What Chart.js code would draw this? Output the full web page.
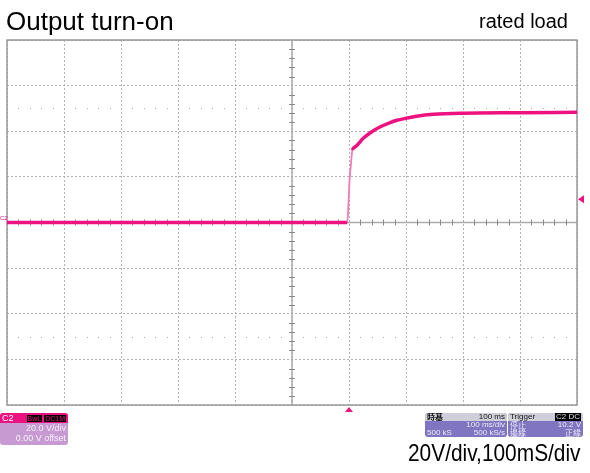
<!DOCTYPE html>
<html>
<head>
<meta charset="utf-8">
<script src="https://cdn.jsdelivr.net/npm/chart.js@4"></script>
<style>
  body { margin: 0; background: #fff; font-family: "Liberation Sans", Arial, sans-serif; }
  #wrap { position: relative; width: 590px; height: 473px; overflow: hidden; }
  #scope { position: absolute; left: 0; top: 0; }
  .txt { position: absolute; white-space: nowrap; color: #000; }
  #title { left: 6px; top: 8px; font-size: 26px; line-height: 26px; }
  #load { right: 22px; top: 11px; font-size: 20px; line-height: 20px; }
  #scale { left: 408px; top: 441px; font-size: 24px; line-height: 24px; transform: scaleX(0.87); transform-origin: left top; }
  #gnd { left: 0; top: 215px; font-size: 6px; line-height: 6px; color: #ee1280; }
  .box { position: absolute; border-radius: 3px; overflow: hidden; font-size: 8px; line-height: 8px; }
  .row { position: relative; height: 8px; }
  .row span { position: absolute; top: 0; }
  .l { left: 2px; } .r { right: 2px; }
  .badge { background: #000; padding: 0 1px; }
  #c2 { left: 0; top: 413px; width: 68px; height: 32px; background: #c89ad2; color: #f4eef8; font-size: 9px; line-height: 10px; }
  #c2 .head { background: #ea137f; height: 11px; color: #fff; }
  #c2 .row { height: 10px; }
  #tb { left: 425px; top: 413px; width: 82px; height: 24px; background: #7f75c0; color: #eceaf8; }
  #trg { left: 508px; top: 413px; width: 75px; height: 24px; background: #7f75c0; color: #eceaf8; }
  .gh { background: #cfcfda; color: #111; }
</style>
</head>
<body>
<div id="wrap">
  <canvas id="scope" width="590" height="473"></canvas>
  <div class="txt" id="title">Output turn-on</div>
  <div class="txt" id="load">rated load</div>
  <div class="txt" id="scale">20V/div,100mS/div</div>
  <div class="txt" id="gnd">C2</div>
  <div class="box" id="c2">
    <div class="row head"><span class="l">C2</span><span class="r" style="color:#ea137f;font-size:7px;line-height:9px;top:1px"><span class="badge" style="position:static">BwL</span> <span class="badge" style="position:static">DC1M</span></span></div>
    <div class="row"><span class="r">20.0 V/div</span></div>
    <div class="row"><span class="r">0.00 V offset</span></div>
  </div>
  <div class="box" id="tb">
    <div class="row gh"><span class="l" style="font-family:'Noto Sans CJK TC';font-weight:bold">時基</span><span class="r">100 ms</span></div>
    <div class="row"><span class="r">100 ms/div</span></div>
    <div class="row"><span class="l">500 kS</span><span class="r">500 kS/s</span></div>
  </div>
  <div class="box" id="trg">
    <div class="row gh"><span class="l">Trigger</span><span class="r badge" style="color:#ddd">C2 DC</span></div>
    <div class="row"><span class="l" style="font-family:'Noto Sans CJK TC'">停止</span><span class="r">10.2 V</span></div>
    <div class="row"><span class="l" style="font-family:'Noto Sans CJK TC'">邊緣</span><span class="r" style="font-family:'Noto Sans CJK TC'">正緣</span></div>
  </div>
</div>
<script>
// time in ms (relative to screen centre), voltage in V
const timeMs = [-500, 97, 99, 101, 103, 106, 111, 125, 140, 155, 169, 184, 200, 219, 248, 300, 400, 500];
const voltage = [0, 0, 7.7, 18.6, 24.5, 31.8, 33.2, 36.9, 39.8, 42.0, 43.5, 44.8, 45.7, 46.6, 47.4, 47.9, 48.1, 48.3];
const timeTicks = [-500, -400, -300, -200, -100, 0, 100, 200, 300, 400, 500];
const voltTicks = [-80, -60, -40, -20, 0, 20, 40, 60, 80];
const triggerLevel = 10.2;
const triggerTime = 100;

const trace = timeMs.map((t, i) => ({ x: t, y: voltage[i] }));

const scopeDecor = {
  id: "scopeDecor",
  beforeDatasetsDraw(chart) {
    const { ctx, chartArea: a, scales: { x, y } } = chart;
    const divX = x.getPixelForValue(100) - x.getPixelForValue(0);
    const divY = y.getPixelForValue(0) - y.getPixelForValue(20);
    const cx = x.getPixelForValue(0);
    const cy = y.getPixelForValue(0);
    const nx = (timeTicks.length - 1) * 5 / 2;
    const ny = (voltTicks.length - 1) * 5 / 2;
    ctx.save();
    // centre crosshair
    ctx.strokeStyle = "#aaa";
    ctx.lineWidth = 1.5;
    ctx.beginPath();
    ctx.moveTo(cx, a.top); ctx.lineTo(cx, a.bottom);
    ctx.moveTo(a.left, cy); ctx.lineTo(a.right, cy);
    ctx.stroke();
    ctx.strokeStyle = "#888";
    ctx.lineWidth = 1;
    ctx.beginPath();
    for (let k = -nx + 1; k < nx; k++) {
      if (k % 5 === 0) continue;
      const px = Math.round(cx + k * divX / 5) + 0.5;
      ctx.moveTo(px, cy - 3); ctx.lineTo(px, cy + 3);
    }
    for (let k = -ny + 1; k < ny; k++) {
      if (k % 5 === 0) continue;
      const py = Math.round(cy + k * divY / 5) + 0.5;
      ctx.moveTo(cx - 3, py); ctx.lineTo(cx + 3, py);
    }
    ctx.stroke();
    // dotted rows at +/- 2.5 div
    ctx.fillStyle = "#aaa";
    [50, -50].forEach((v) => {
      const py = Math.round(y.getPixelForValue(v));
      for (let k = 0; k < 50; k++) {
        if (k % 5 === 0) continue;
        const px = Math.round(a.left + k * divX / 5);
        ctx.fillRect(px, py, 1, 1);
      }
    });
    // frame
    ctx.strokeStyle = "#999";
    ctx.lineWidth = 1.5;
    ctx.strokeRect(a.left, a.top, a.right - a.left, a.bottom - a.top);
    ctx.restore();
  },
  afterDatasetsDraw(chart) {
    const { ctx, chartArea: a, scales: { x, y } } = chart;
    ctx.save();
    ctx.fillStyle = "#ee1280";
    const ty = y.getPixelForValue(triggerLevel);
    ctx.beginPath();
    ctx.moveTo(a.right + 1, ty); ctx.lineTo(a.right + 7, ty - 4); ctx.lineTo(a.right + 7, ty + 4);
    ctx.closePath(); ctx.fill();
    const tx = x.getPixelForValue(triggerTime);
    ctx.beginPath();
    ctx.moveTo(tx, a.bottom + 2); ctx.lineTo(tx - 4, a.bottom + 7); ctx.lineTo(tx + 4, a.bottom + 7);
    ctx.closePath(); ctx.fill();
    ctx.restore();
  },
};

const gridStyle = {
  color: "#b0b0b0",
  lineWidth: 1,
  drawTicks: false,
};

new Chart(document.getElementById("scope").getContext("2d"), {
  type: "line",
  data: {
    datasets: [
      {
        data: trace,
        borderColor: "#ee1280",
        borderWidth: 3.5,
        pointRadius: 0,
        cubicInterpolationMode: "monotone",
        segment: {
          borderColor: (c) => (c.p1.parsed.y - c.p0.parsed.y > 5 && c.p1.parsed.x - c.p0.parsed.x < 5 ? "#f37ab8" : undefined),
          borderWidth: (c) => (c.p1.parsed.y - c.p0.parsed.y > 5 && c.p1.parsed.x - c.p0.parsed.x < 5 ? 1.8 : undefined),
        },
      },
    ],
  },
  options: {
    responsive: false,
    animation: false,
    events: [],
    layout: { padding: { left: 7, right: 13, top: 40, bottom: 68 } },
    plugins: { legend: { display: false }, tooltip: { enabled: false } },
    scales: {
      x: {
        type: "linear",
        min: timeTicks[0],
        max: timeTicks[timeTicks.length - 1],
        afterBuildTicks: (s) => { s.ticks = timeTicks.map((v) => ({ value: v })); },
        ticks: { display: false },
        grid: gridStyle,
        border: { display: false, dash: [2, 2] },
      },
      y: {
        type: "linear",
        min: voltTicks[0],
        max: voltTicks[voltTicks.length - 1],
        afterBuildTicks: (s) => { s.ticks = voltTicks.map((v) => ({ value: v })); },
        ticks: { display: false },
        grid: gridStyle,
        border: { display: false, dash: [2, 2] },
      },
    },
  },
  plugins: [scopeDecor],
});
</script>
</body>
</html>
